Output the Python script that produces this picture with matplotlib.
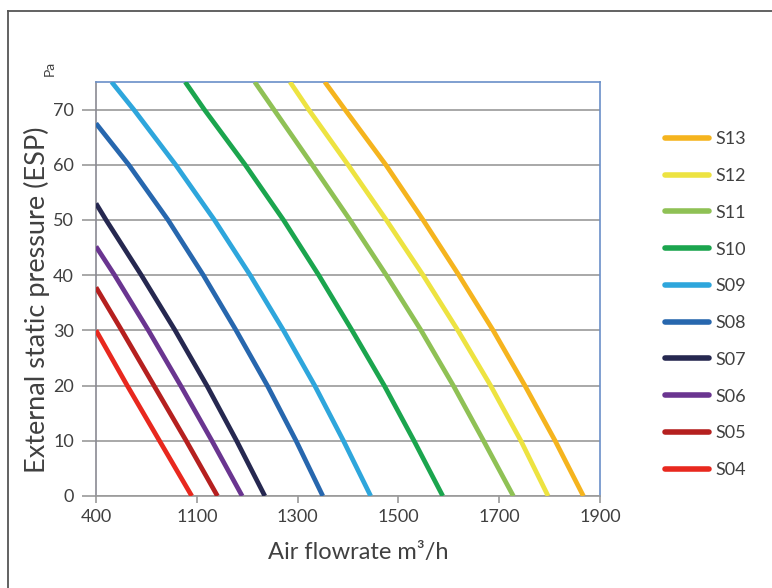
import matplotlib
matplotlib.use("Agg")
import matplotlib.pyplot as plt
from matplotlib.lines import Line2D

plt.rcParams['font.family'] = ['Lato', 'DejaVu Sans']

# Axis: the first tick is labelled "400" but sits one step before 1100
x_ticks = [900, 1100, 1300, 1500, 1700, 1900]
x_tick_labels = ['400', '1100', '1300', '1500', '1700', '1900']
y_ticks = [0, 10, 20, 30, 40, 50, 60, 70]

series_names = ['S13', 'S12', 'S11', 'S10', 'S09', 'S08', 'S07', 'S06', 'S05', 'S04']
series_colors = ['#F5B41E', '#EDE341', '#8FC155', '#1BA54E', '#2EA6DC',
                 '#2767AE', '#262850', '#6A3590', '#B5201F', '#E8281E']

# (airflow, pressure) points
S13_x = [1354, 1394, 1475, 1549, 1620, 1688, 1751, 1811, 1867]
S13_y = [75, 70, 60, 50, 40, 30, 20, 10, 0]
S12_x = [1285, 1322, 1400, 1476, 1549, 1618, 1683, 1743, 1797]
S12_y = [75, 70, 60, 50, 40, 30, 20, 10, 0]
S11_x = [1215, 1253, 1329, 1404, 1476, 1545, 1609, 1669, 1728]
S11_y = [75, 70, 60, 50, 40, 30, 20, 10, 0]
S10_x = [1077, 1115, 1196, 1272, 1342, 1408, 1472, 1531, 1588]
S10_y = [75, 70, 60, 50, 40, 30, 20, 10, 0]
S09_x = [931, 975, 1058, 1135, 1206, 1272, 1334, 1391, 1445]
S09_y = [75, 70, 60, 50, 40, 30, 20, 10, 0]
S08_x = [900, 965, 1043, 1113, 1178, 1240, 1297, 1350]
S08_y = [67.5, 60, 50, 40, 30, 20, 10, 0]
S07_x = [900, 920, 990, 1057, 1120, 1179, 1235]
S07_y = [53, 50, 40, 30, 20, 10, 0]
S06_x = [900, 937, 1004, 1068, 1130, 1190]
S06_y = [45.2, 40, 30, 20, 10, 0]
S05_x = [900, 951, 1015, 1079, 1141]
S05_y = [37.8, 30, 20, 10, 0]
S04_x = [900, 962, 1026, 1090]
S04_y = [30, 20, 10, 0]

series_x = [S13_x, S12_x, S11_x, S10_x, S09_x, S08_x, S07_x, S06_x, S05_x, S04_x]
series_y = [S13_y, S12_y, S11_y, S10_y, S09_y, S08_y, S07_y, S06_y, S05_y, S04_y]

fig = plt.figure(figsize=(7.72, 5.88), dpi=100)
ax = fig.add_axes([96/772, 1-496/588, (600-96)/772, (496-82)/588])

text_color = '#404040'
grid_color = '#9a9a9a'

for name, col, xs, ys in zip(series_names, series_colors, series_x, series_y):
    ax.plot(xs, ys, color=col, lw=3.4, label=name, solid_capstyle='butt',
            solid_joinstyle='round', zorder=3)

ax.set_xlim(900, 1900)
ax.set_ylim(0, 75)
ax.set_xticks(x_ticks)
ax.set_xticklabels(x_tick_labels)
ax.set_yticks(y_ticks)
ax.yaxis.grid(True, color=grid_color, lw=1.2)
ax.set_axisbelow(True)

ax.tick_params(axis='y', length=10, width=1.2, color=grid_color, labelsize=13,
               labelcolor=text_color, pad=6)
ax.tick_params(axis='x', length=5, width=1.2, color=grid_color, labelsize=13,
               labelcolor=text_color, pad=4)

ax.spines['left'].set_color('#8a8a92')
ax.spines['bottom'].set_color(grid_color)
ax.spines['top'].set_color('#6A8FC8')
ax.spines['right'].set_color('#6A8FC8')
for s in ax.spines.values():
    s.set_linewidth(1.2)

fig.text(37/772, 1-300/588, 'External static pressure (ESP)', rotation=90,
         ha='center', va='center', fontsize=19.5, color=text_color)
fig.text(358/772, 1-552/588, 'Air flowrate m\u00b3/h', ha='center', va='center',
         fontsize=17, color=text_color)
fig.text(50/772, 1-68/588, 'Pa', rotation=90, ha='center', va='center',
         fontsize=10, color=text_color)

leg = ax.legend(loc='upper left', bbox_to_anchor=(658/772, 1-124/588),
                bbox_transform=fig.transFigure, frameon=False, fontsize=13,
                handlelength=2.4, handletextpad=0.4, labelspacing=1.15,
                borderaxespad=0)
for t in leg.get_texts():
    t.set_color(text_color)
for h in leg.legend_handles:
    h.set_linewidth(4)
    h.set_solid_capstyle('round')

# outer frame (left and top edges)
fig.add_artist(Line2D([8/772, 8/772], [0, 1-11/588], transform=fig.transFigure,
                      color='#555555', lw=1.3))
fig.add_artist(Line2D([8/772, 1], [1-11/588, 1-11/588], transform=fig.transFigure,
                      color='#555555', lw=1.3))

fig.savefig('out.png', dpi=100)
